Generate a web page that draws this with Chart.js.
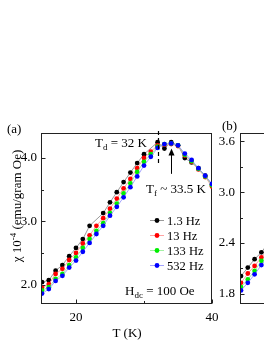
<!DOCTYPE html>
<html>
<head>
<meta charset="utf-8">
<script src="https://cdn.jsdelivr.net/npm/chart.js@4.4.0/dist/chart.umd.min.js"></script>
<style>
  html, body { margin: 0; padding: 0; overflow: hidden; background: #fff; }
  canvas { position: absolute; left: 0; top: 0; }
</style>
</head>
<body>
<canvas id="chart-b" width="430" height="341"></canvas>
<canvas id="chart-a" width="264" height="341"></canvas>
<script>
const fontFamily = '"Liberation Serif", "Times New Roman", serif';

// panel (a): chi' (1e-4 emu/gram Oe) vs T (K), one array per frequency
const tempsA = [15, 16, 17, 18, 19, 20, 21, 22, 23, 24, 25, 26, 27, 28, 29, 30, 31, 32, 33, 34, 35, 36, 37, 38, 39, 40];
const chiA_1p3Hz = [2.04, 2.07, 2.22, 2.31, 2.45, 2.58, 2.72, 2.93, null, 3.13, 3.30, 3.46, 3.62, 3.77, 3.92, 4.06, null, 4.25, 4.15, 4.25, 4.20, 4.00, 3.93, 3.84, 3.72, 3.58];
const chiA_13Hz  = [1.95, 2.01, 2.17, 2.25, 2.39, 2.50, 2.65, 2.78, 2.93, 3.05, 3.20, 3.36, 3.52, 3.67, 3.84, 4.00, 4.10, 4.20, 4.21, 4.22, 4.19, 4.04, 3.94, 3.82, 3.70, 3.55];
const chiA_133Hz = [1.91, 1.96, 2.09, 2.17, 2.31, 2.43, 2.58, 2.72, 2.85, 2.97, 3.13, 3.28, 3.44, 3.60, 3.78, 3.94, 4.06, 4.18, 4.22, 4.23, 4.20, 4.05, 3.95, 3.83, 3.71, 3.57];
const chiA_532Hz = [1.86, 1.93, 2.06, 2.14, 2.27, 2.38, 2.52, 2.66, 2.80, 2.93, 3.09, 3.23, 3.38, 3.54, 3.71, 3.88, 4.02, 4.16, 4.22, 4.23, 4.20, 4.07, 3.97, 3.84, 3.72, 3.59];

// panel (b): only the first few points are inside the picture
const tempsB = [15, 16, 17, 18, 19];
const chiB_1p3Hz = [2.01, 2.11, 2.21, 2.29, 2.40];
const chiB_13Hz  = [1.93, 2.04, 2.13, 2.23, 2.33];
const chiB_133Hz = [1.88, 1.97, 2.07, 2.19, 2.28];
const chiB_532Hz = [1.84, 1.93, 2.03, 2.14, 2.24];

const freqLabels = ['1.3 Hz', '13 Hz', '133 Hz', '532 Hz'];

const xTicksA = [20, 30, 40];
const xTickLabelsA = ['20', '', '40'];
const yTicksA = [2.0, 2.5, 3.0, 3.5, 4.0];
const yTickLabelsA = ['2.0', '', '3.0', '', '4.0'];
const yTicksB = [1.8, 2.1, 2.4, 2.7, 3.0, 3.3, 3.6];
const yTickLabelsB = ['1.8', '', '2.4', '', '3.0', '', '3.6'];

const tdValue = 32;     // T_d marker
const tfArrowT = 33.95; // where the T_f arrow sits

const pointColors = ['#000000', '#ff0000', '#00ee00', '#0000ff'];
const lineColors = ['#808080', '#ff8c8c', '#8cee8c', '#8c8cff'];

function toPoints(temps, vals) {
    return temps.map((t, i) => ({x: t, y: vals[i]})).filter(p => p.y !== null);
}

function makeDatasets(temps, series) {
    return series.map((vals, i) => ({
        label: freqLabels[i],
        data: toPoints(temps, vals),
        borderColor: lineColors[i],
        borderWidth: 0.8,
        pointBackgroundColor: pointColors[i],
        pointBorderColor: pointColors[i],
        pointBorderWidth: 0,
        pointRadius: 2.4,
        order: 4 - i,
        tension: 0
    }));
}

function font(size) {
    return size + 'px ' + fontFamily;
}

// draws pieces of text one after another, for sub/superscripts
function drawRich(ctx, x, y, parts) {
    ctx.textAlign = 'left';
    ctx.textBaseline = 'alphabetic';
    parts.forEach(p => {
        ctx.font = font(p.size);
        ctx.fillText(p.text, x, y + (p.dy || 0));
        x += ctx.measureText(p.text).width;
    });
}

function richWidth(ctx, parts) {
    let w = 0;
    parts.forEach(p => {
        ctx.font = font(p.size);
        w += ctx.measureText(p.text).width;
    });
    return w;
}

// box round the plot, inward ticks and the y tick labels
const framePlugin = {
    id: 'frame',
    beforeDatasetsDraw(chart, args, opts) {
        const {ctx, chartArea: a, scales: {x, y}} = chart;
        ctx.save();
        ctx.strokeStyle = '#222';
        ctx.lineWidth = 1;
        const l = Math.round(a.left) - 0.5, t = Math.round(a.top) + 0.5;
        const r = Math.round(a.right) - 0.5, b = Math.round(a.bottom) - 0.5;
        ctx.strokeRect(l, t, r - l, b - t);
        ctx.beginPath();
        x.ticks.forEach((tk, i) => {
            const px = Math.round(x.getPixelForValue(tk.value)) + 0.5;
            const len = opts.xLabels[i] ? 4 : 2.5;
            ctx.moveTo(px, b);
            ctx.lineTo(px, b - len);
        });
        y.ticks.forEach((tk, i) => {
            const py = Math.round(y.getPixelForValue(tk.value)) + 0.5;
            const len = opts.yLabels[i] ? 4 : 2.5;
            ctx.moveTo(l, py);
            ctx.lineTo(l + len, py);
        });
        ctx.stroke();

        ctx.fillStyle = '#000';
        ctx.font = font(13);
        ctx.textAlign = 'right';
        ctx.textBaseline = 'middle';
        y.ticks.forEach((tk, i) => {
            if (opts.yLabels[i]) {
                ctx.fillText(opts.yLabels[i], a.left - opts.yPad, y.getPixelForValue(tk.value));
            }
        });
        ctx.restore();
    }
};

const panelAPlugin = {
    id: 'panelA',
    afterDraw(chart) {
        const {ctx, chartArea: a, scales: {x, y}} = chart;
        ctx.save();
        ctx.fillStyle = '#000';

        drawRich(ctx, 7, 133, [{text: '(a)', size: 13}]);

        // y axis title with superscript
        const title = [
            {text: 'χ 10', size: 13},
            {text: '-4', size: 9, dy: -5},
            {text: ' (emu/gram Oe)', size: 13}
        ];
        ctx.save();
        ctx.translate(16, 206);
        ctx.rotate(-Math.PI / 2);
        drawRich(ctx, -richWidth(ctx, title) / 2, 4.5, title);
        ctx.restore();

        // dashed T_d line
        const xd = Math.round(x.getPixelForValue(tdValue)) + 0.5;
        ctx.strokeStyle = '#000';
        ctx.lineWidth = 1.2;
        ctx.setLineDash([4, 3]);
        ctx.beginPath();
        ctx.moveTo(xd, a.top - 2);
        ctx.lineTo(xd, y.getPixelForValue(3.905));
        ctx.stroke();
        ctx.setLineDash([]);

        drawRich(ctx, 95, 146.5, [
            {text: 'T', size: 13},
            {text: 'd', size: 9, dy: 3},
            {text: ' = 32 K', size: 13}
        ]);

        // T_f arrow
        const xf = Math.round(x.getPixelForValue(tfArrowT)) + 0.5;
        const yTip = y.getPixelForValue(4.15);
        ctx.lineWidth = 1;
        ctx.beginPath();
        ctx.moveTo(xf, y.getPixelForValue(3.75));
        ctx.lineTo(xf, yTip + 5);
        ctx.stroke();
        ctx.beginPath();
        ctx.moveTo(xf, yTip);
        ctx.lineTo(xf - 3, yTip + 7);
        ctx.lineTo(xf + 3, yTip + 7);
        ctx.closePath();
        ctx.fill();

        drawRich(ctx, 146, 193, [
            {text: 'T', size: 13},
            {text: 'f', size: 9, dy: 3},
            {text: ' ~ 33.5 K', size: 13}
        ]);

        // legend
        chart.data.datasets.forEach((ds, i) => {
            const cy = 220 + i * 15;
            ctx.strokeStyle = ds.borderColor;
            ctx.lineWidth = 0.8;
            ctx.beginPath();
            ctx.moveTo(150, cy + 0.5);
            ctx.lineTo(164, cy + 0.5);
            ctx.stroke();
            ctx.fillStyle = ds.pointBackgroundColor;
            ctx.beginPath();
            ctx.arc(157, cy + 0.5, 2.4, 0, Math.PI * 2);
            ctx.fill();
            ctx.fillStyle = '#000';
            drawRich(ctx, 167, cy + 4.5, [{text: ds.label, size: 12.5}]);
        });

        drawRich(ctx, 125, 295, [
            {text: 'H', size: 13},
            {text: 'dc', size: 9, dy: 3},
            {text: ' = 100 Oe', size: 13}
        ]);
        ctx.restore();
    }
};

const panelBPlugin = {
    id: 'panelB',
    afterDraw(chart) {
        const {ctx} = chart;
        ctx.save();
        ctx.fillStyle = '#000';
        drawRich(ctx, 222, 130, [{text: '(b)', size: 13}]);
        ctx.restore();
    }
};

function axisX(ticks, labels) {
    return {
        type: 'linear', min: 15, max: 40,
        grid: {display: false, drawTicks: false},
        border: {display: false},
        afterBuildTicks: s => { s.ticks = ticks.map(v => ({value: v})); },
        afterFit: s => { s.height = 37; },
        ticks: {
            padding: 6, color: '#000', maxRotation: 0, autoSkip: false,
            font: {family: fontFamily, size: 13},
            callback: (v, i) => labels[i]
        },
        title: {
            display: true, text: 'T (K)', color: '#000',
            font: {family: fontFamily, size: 13},
            padding: {top: 0, bottom: 0}
        }
    };
}

function axisY(min, max, ticks, width) {
    return {
        type: 'linear', min: min, max: max,
        grid: {display: false, drawTicks: false},
        border: {display: false},
        afterBuildTicks: s => { s.ticks = ticks.map(v => ({value: v})); },
        afterFit: s => { s.width = width; },
        ticks: {display: false}
    };
}

const chartA = new Chart(document.getElementById('chart-a').getContext('2d'), {
    type: 'line',
    data: {datasets: makeDatasets(tempsA, [chiA_1p3Hz, chiA_13Hz, chiA_133Hz, chiA_532Hz])},
    options: {
        responsive: false,
        animation: false,
        devicePixelRatio: 1,
        layout: {padding: {left: 0, top: 133, right: 52, bottom: 0}},
        plugins: {
            legend: {display: false},
            tooltip: {enabled: false},
            frame: {xLabels: xTickLabelsA, yLabels: yTickLabelsA, yPad: 5}
        },
        scales: {
            x: axisX(xTicksA, xTickLabelsA),
            y: axisY(1.695, 4.395, yTicksA, 42)
        }
    },
    plugins: [framePlugin, panelAPlugin]
});

const chartB = new Chart(document.getElementById('chart-b').getContext('2d'), {
    type: 'line',
    data: {datasets: makeDatasets(tempsB, [chiB_1p3Hz, chiB_13Hz, chiB_133Hz, chiB_532Hz])},
    options: {
        responsive: false,
        animation: false,
        devicePixelRatio: 1,
        layout: {padding: {left: 200, top: 133, right: 19, bottom: 0}},
        plugins: {
            legend: {display: false},
            tooltip: {enabled: false},
            frame: {xLabels: xTickLabelsA, yLabels: yTickLabelsB, yPad: 6}
        },
        scales: {
            x: axisX(xTicksA, xTickLabelsA),
            y: axisY(1.68, 3.70, yTicksB, 41)
        }
    },
    plugins: [framePlugin, panelBPlugin]
});
</script>
</body>
</html>
